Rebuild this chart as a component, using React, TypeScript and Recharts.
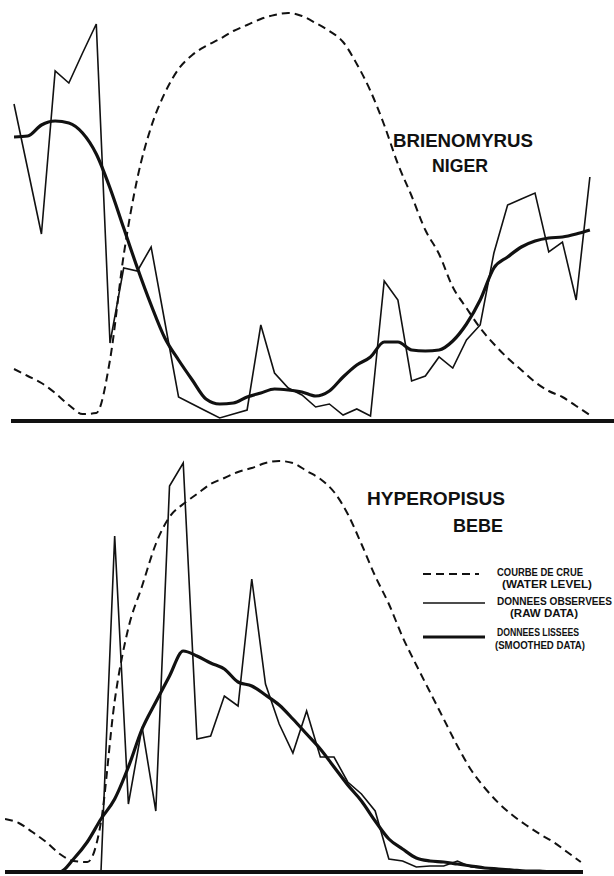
import { LineChart, Line, XAxis, YAxis, ReferenceLine } from 'recharts';

// heights above the baseline, one value per sampling date (43 dates)
const brienoRaw = [317, 252, 187, 350, 338, 368, 397, 78, 153, 150, 174, 99, 24, 17, 10, 3, 7, 11, 96, 48, 33, 26, 14, 17, 6, 12, 5, 140, 121, 40, 45, 64, 53, 81, 96, 168, 216, 222, 228, 169, 179, 121, 244];
const brienoSmooth = [284, 285, 296, 300, 298, 288, 267, 233, 193, 153, 116, 83, 61, 41, 22, 17, 18, 24, 28, 32, 31, 29, 25, 30, 44, 56, 64, 79, 79, 71, 70, 71, 80, 97, 121, 153, 164, 174, 180, 183, 184, 187, 191];
const brienoWater = [52, 45, 38, 28, 16, 7, 8, 61, 166, 243, 294, 328, 352, 366, 375, 382, 390, 396, 402, 406, 408, 405, 398, 390, 379, 357, 330, 296, 257, 225, 191, 167, 134, 113, 93, 77, 63, 51, 39, 30, 24, 15, 6];

const hyperRaw = [0, 0, 0, 0, 0, 0, 0, 0, 336, 68, 145, 61, 386, 409, 133, 136, 176, 166, 293, 188, 148, 119, 161, 115, 115, 90, 78, 61, 13, 11, 5, 6, 6, 11, 5, 4, 3, 1, 1, 1, 0, 0, 0];
const hyperSmooth = [0, 0, 0, 0, 0, 13, 30, 53, 73, 105, 143, 170, 196, 221, 216, 209, 203, 190, 186, 177, 167, 153, 138, 123, 105, 87, 71, 51, 33, 23, 14, 11, 10, 8, 6, 4, 3, 2, 1, 1, 0, 0, 0];
const hyperWater = [53, 49, 40, 30, 18, 11, 10, 50, 171, 244, 286, 328, 355, 368, 378, 388, 394, 400, 404, 409, 411, 409, 401, 393, 380, 358, 328, 296, 268, 235, 207, 180, 153, 126, 102, 84, 69, 57, 47, 38, 30, 20, 10];

const legendLabels = [
  ['COURBE DE CRUE', '(WATER LEVEL)'],
  ['DONNEES OBSERVEES', '(RAW DATA)'],
  ['DONNEES LISSEES', '(SMOOTHED DATA)'],
];

const buildRows = (raw: number[], smooth: number[], water: number[]) =>
  raw.map((r, i) => ({ week: i, raw: r, smooth: smooth[i], water: water[i] }));

const ink = '#111';

interface PanelProps {
  rows: ReturnType<typeof buildRows>;
  top: number;
  height: number;
  margin: { top: number; bottom: number; left: number; right: number };
  xDomain: [number, number];
}

function Panel({ rows, top, height, margin, xDomain }: PanelProps) {
  return (
    <div style={{ position: 'absolute', left: 0, top }}>
      <LineChart width={614} height={height} data={rows} margin={margin}>
        <XAxis dataKey="week" type="number" domain={xDomain} allowDataOverflow hide />
        <YAxis domain={[0, 416]} allowDataOverflow hide />
        <ReferenceLine y={0} stroke={ink} strokeWidth={4} />
        <Line type="monotone" dataKey="water" stroke={ink} strokeWidth={2} strokeDasharray="8 5" dot={false} isAnimationActive={false} />
        <Line type="linear" dataKey="raw" stroke={ink} strokeWidth={1.6} dot={false} isAnimationActive={false} />
        <Line type="monotone" dataKey="smooth" stroke={ink} strokeWidth={3.2} dot={false} isAnimationActive={false} />
      </LineChart>
    </div>
  );
}

export default function App() {
  const title = { fontFamily: 'Liberation Sans, Arial, sans-serif', fontWeight: 700, fontSize: 19, fill: ink };
  const small = { fontFamily: 'Liberation Sans, Arial, sans-serif', fontWeight: 700, fontSize: 10, fill: ink };
  return (
    <div style={{ position: 'absolute', left: 0, top: 0, width: 614, height: 876, background: '#fff' }}>
      <Panel
        rows={buildRows(brienoRaw, brienoSmooth, brienoWater)}
        top={0}
        height={440}
        margin={{ top: 5, bottom: 19, left: 11, right: 0 }}
        xDomain={[-0.22, 43.76]}
      />
      <Panel
        rows={buildRows(hyperRaw, hyperSmooth, hyperWater)}
        top={440}
        height={436}
        margin={{ top: 16, bottom: 4, left: 5, right: 31 }}
        xDomain={[0, 42.16]}
      />
      <svg width={614} height={876} style={{ position: 'absolute', left: 0, top: 0, pointerEvents: 'none' }}>
        <text x={393} y={147} textLength={140} lengthAdjust="spacingAndGlyphs" {...title}>BRIENOMYRUS</text>
        <text x={432} y={172} textLength={56} lengthAdjust="spacingAndGlyphs" {...title}>NIGER</text>
        <text x={367} y={505} textLength={138} lengthAdjust="spacingAndGlyphs" {...title}>HYPEROPISUS</text>
        <text x={453} y={532} textLength={50} lengthAdjust="spacingAndGlyphs" {...title}>BEBE</text>

        <line x1={423} x2={479} y1={574} y2={574} stroke={ink} strokeWidth={2} strokeDasharray="8 5" />
        <line x1={423} x2={485} y1={603} y2={603} stroke={ink} strokeWidth={1.6} />
        <line x1={423} x2={485} y1={637} y2={637} stroke={ink} strokeWidth={3.2} />

        <text x={497} y={576} textLength={86} lengthAdjust="spacingAndGlyphs" {...small}>{legendLabels[0][0]}</text>
        <text x={502} y={588} textLength={90} lengthAdjust="spacingAndGlyphs" {...small}>{legendLabels[0][1]}</text>
        <text x={497} y={605} textLength={115} lengthAdjust="spacingAndGlyphs" {...small}>{legendLabels[1][0]}</text>
        <text x={510} y={617} textLength={68} lengthAdjust="spacingAndGlyphs" {...small}>{legendLabels[1][1]}</text>
        <text x={497} y={636} textLength={82} lengthAdjust="spacingAndGlyphs" {...small}>{legendLabels[2][0]}</text>
        <text x={495} y={649} textLength={90} lengthAdjust="spacingAndGlyphs" {...small}>{legendLabels[2][1]}</text>
      </svg>
    </div>
  );
}
